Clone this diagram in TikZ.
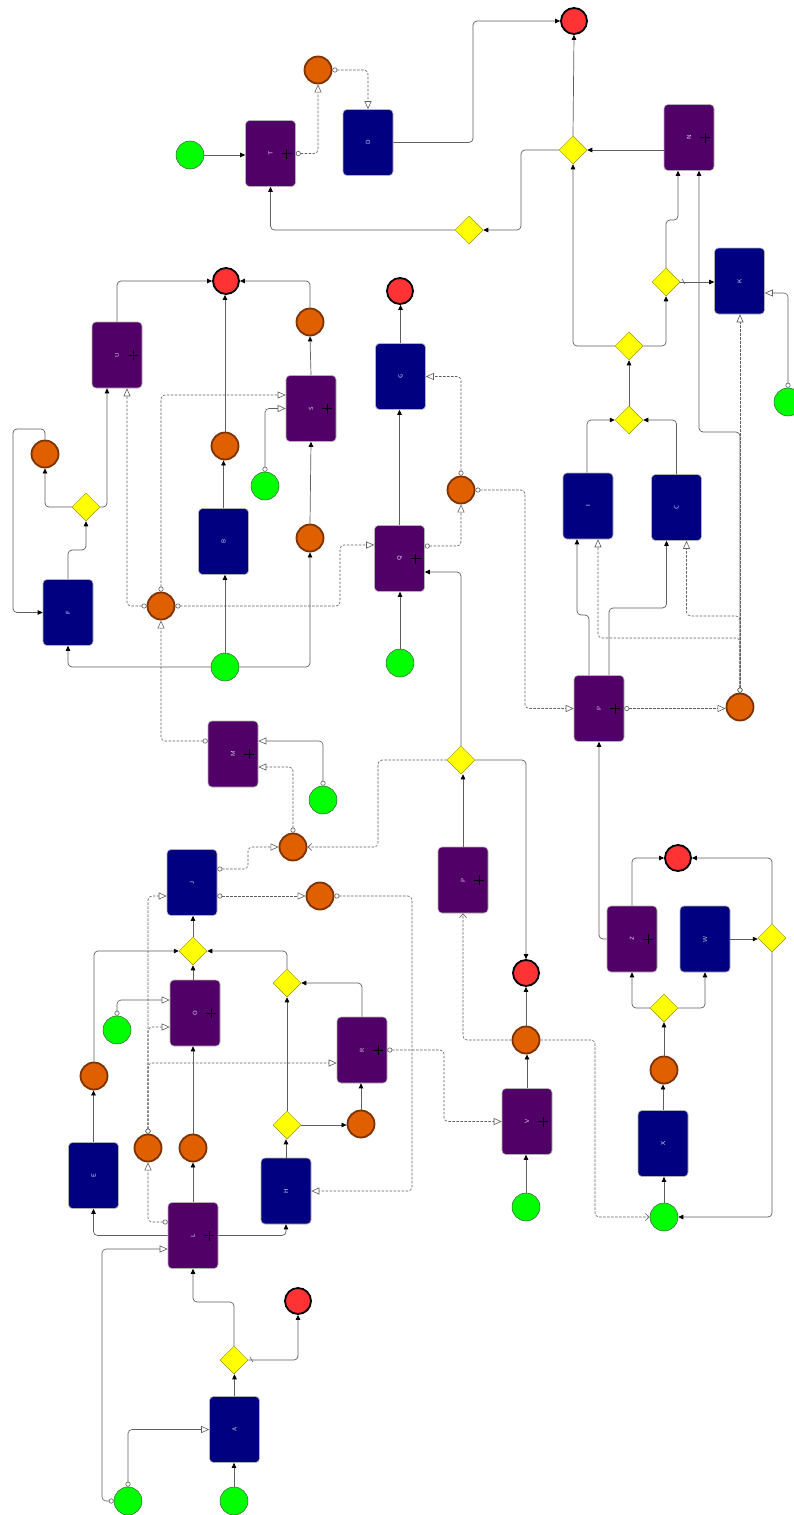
\documentclass[tikz,border=0pt]{standalone}
\usetikzlibrary{shapes.geometric,arrows.meta}
\definecolor{purp}{RGB}{80,0,102}
\definecolor{navyc}{RGB}{0,0,128}
\definecolor{orf}{RGB}{224,96,0}
\definecolor{orb}{RGB}{125,50,0}
\definecolor{redf}{RGB}{255,51,51}
\definecolor{grf}{RGB}{0,255,0}
\definecolor{yelf}{RGB}{255,255,0}
\definecolor{yelb}{RGB}{150,150,0}
\definecolor{lc}{RGB}{95,95,95}
\definecolor{labc}{RGB}{225,210,245}
\begin{document}
\begin{tikzpicture}[x=1pt,y=-1pt,
  task/.style={rectangle,rounded corners=4pt,minimum width=50pt,minimum height=66pt,inner sep=0pt,draw=gray!60,line width=0.6pt,text=labc,font=\sffamily\fontsize{6}{6}\selectfont},
  ptask/.style={task,fill=purp,path picture={\draw[black,line width=0.9pt] ([xshift=16pt]path picture bounding box.center) +(-5pt,0) -- +(5pt,0) +(0,-5pt) -- +(0,5pt);}},
  ntask/.style={task,fill=navyc},
  startev/.style={circle,minimum size=28pt,inner sep=0pt,fill=grf,draw=gray!80!green!60!black,line width=0.5pt},
  interev/.style={circle,minimum size=27pt,inner sep=0pt,fill=orf,draw=orb,line width=1.8pt},
  endev/.style={circle,minimum size=26pt,inner sep=0pt,fill=redf,draw=black,line width=1.8pt},
  gw/.style={diamond,minimum width=28pt,minimum height=28pt,inner sep=0pt,fill=yelf,draw=yelb,line width=0.5pt},
  seq/.style={draw=lc,line width=0.7pt,rounded corners=4pt,-{Triangle[length=5pt,width=4.5pt,color=black]}},
  msgs/.style={draw=lc,line width=0.6pt,rounded corners=4pt,{Circle[open,length=5pt,width=5pt,fill=white]}-{Triangle[open,length=8pt,width=7pt,fill=white]}},
  msg/.style={msgs,dash pattern=on 2.5pt off 1.5pt},
  asc/.style={draw=lc,line width=0.6pt,rounded corners=4pt,dash pattern=on 2.5pt off 1.5pt,-{Straight Barb[length=4pt,width=7pt]}},
  dflt/.style={draw=lc,line width=0.6pt}
]
\useasboundingbox[fill=white] (0,0) rectangle (793,1515);
% tasks
\node[ptask] (T) at (270.5,153.5) {\rotatebox{90}{T}};
\node[ntask] (D) at (368,142.5) {\rotatebox{90}{D}};
\node[ptask] (N) at (689,137.5) {\rotatebox{90}{N}};
\node[ntask] (K) at (739.5,281) {\rotatebox{90}{K}};
\node[ntask] (G) at (400.5,376.5) {\rotatebox{90}{G}};
\node[ptask] (U) at (117,355) {\rotatebox{90}{U}};
\node[ptask] (S) at (311,408.5) {\rotatebox{90}{S}};
\node[ntask] (I) at (588,506) {\rotatebox{90}{I}};
\node[ntask] (C) at (676.5,507.5) {\rotatebox{90}{C}};
\node[ntask] (B) at (223.5,541.5) {\rotatebox{90}{B}};
\node[ptask] (Q) at (399.5,558.5) {\rotatebox{90}{Q}};
\node[ntask] (F) at (68,612.5) {\rotatebox{90}{F}};
\node[ptask] (P1) at (599,708.5) {\rotatebox{90}{P}};
\node[ptask] (M) at (233,754) {\rotatebox{90}{M}};
\node[ntask] (J) at (192,882.5) {\rotatebox{90}{J}};
\node[ptask] (P2) at (463,880) {\rotatebox{90}{P}};
\node[ptask] (Z) at (632,939) {\rotatebox{90}{Z}};
\node[ntask] (W) at (705,939) {\rotatebox{90}{W}};
\node[ptask] (O) at (195,1013) {\rotatebox{90}{O}};
\node[ptask] (R) at (362,1050) {\rotatebox{90}{R}};
\node[ntask] (X) at (663,1143.5) {\rotatebox{90}{X}};
\node[ptask] (V) at (527,1121.5) {\rotatebox{90}{V}};
\node[ntask] (E) at (93.5,1175.5) {\rotatebox{90}{E}};
\node[ntask] (H) at (286,1191) {\rotatebox{90}{H}};
\node[ptask] (L) at (193,1235.5) {\rotatebox{90}{L}};
\node[ntask] (A) at (234.5,1429.5) {\rotatebox{90}{A}};
% start events
\node[startev] (s1) at (190,155) {};
\node[startev] (s2) at (788,402) {};
\node[startev] (s3) at (265,486) {};
\node[startev] (s4) at (225,667) {};
\node[startev] (s5) at (400,663) {};
\node[startev] (s6) at (323,800) {};
\node[startev] (s7) at (117,1030) {};
\node[startev] (s8) at (526,1207) {};
\node[startev] (s9) at (664,1217) {};
\node[startev] (s10) at (128,1501) {};
\node[startev] (s11) at (234,1501) {};
% intermediate events
\node[interev] (i1) at (318,70) {};
\node[interev] (i2) at (310,322) {};
\node[interev] (i3) at (225,446) {};
\node[interev] (i4) at (45,454) {};
\node[interev] (i5) at (461,490) {};
\node[interev] (i6) at (310,538) {};
\node[interev] (i7) at (161,606) {};
\node[interev] (i8) at (740,707) {};
\node[interev] (i9) at (293,847) {};
\node[interev] (i10) at (320,896) {};
\node[interev] (i11) at (526,1040) {};
\node[interev] (i12) at (664,1070) {};
\node[interev] (i13) at (94,1076) {};
\node[interev] (i14) at (361,1124) {};
\node[interev] (i15) at (148,1148) {};
\node[interev] (i16) at (193,1148) {};
% end events
\node[endev] (e1) at (574,21) {};
\node[endev] (e2) at (226,281) {};
\node[endev] (e3) at (400,291) {};
\node[endev] (e4) at (678,858) {};
\node[endev] (e5) at (526,973) {};
\node[endev] (e6) at (298,1301) {};
% gateways
\node[gw] (g1) at (573,150) {};
\node[gw] (g2) at (469,230) {};
\node[gw] (g3) at (666,282) {};
\node[gw] (g4) at (629,346) {};
\node[gw] (g5) at (629,420) {};
\node[gw] (g6) at (461,760) {};
\node[gw] (g7) at (772,938) {};
\node[gw] (g8) at (664,1008) {};
\node[gw] (g9) at (193,951) {};
\node[gw] (g10) at (287,1125) {};
\node[gw] (g11) at (287,983) {};
\node[gw] (g12) at (86,507) {};
\node[gw] (g13) at (234,1360) {};
% sequence flows
\draw[seq] (s1.east) -- (s1.east -| T.west);
\draw[seq] (D.east) -- (473,142.5) |- (e1.west);
\draw[seq] (g1.north) -- (e1.south);
\draw[seq] (g1.east -| N.west) -- (g1.east);
\draw[seq] (g1.west) -- (521,150) |- (g2.east);
\draw[seq] (g2.west) -| (T.south);
\draw[seq] (g3.north) -- (666,220) -| ([xshift=-11pt]N.south);
\draw[seq] (i8.north) -- (740,432) -| ([xshift=10pt]N.south);
\draw[seq] (g3.east) -- (g3.east -| K.west);
\draw[dflt] (682,279) -- (685,284);
\draw[seq] (g4.east) -| (g3.south);
\draw[seq] (g4.west) -| (g1.south);
\draw[seq] (g5.north) -- (g4.south);
\draw[seq] ([xshift=-1pt]I.north) |- (g5.west);
\draw[seq] (C.north) |- (g5.east);
\draw[seq] ([xshift=-10pt]P1.north) -- (589,615) -| ([xshift=-11pt]I.south);
\draw[seq] ([xshift=10pt]P1.north) -- (609,608) -| ([xshift=-10pt]C.south);
\draw[seq] (Z.west) -| (P1.south);
\draw[seq] (Z.north) |- (e4.west);
\draw[seq] (W.east) -- (W.east -| g7.west);
\draw[seq] (g7.north) |- (e4.east);
\draw[seq] (g7.south) |- (s9.east);
\draw[seq] (g8.west) -| (Z.south);
\draw[seq] (g8.east) -| (W.south);
\draw[seq] (i12.north) -- (g8.south);
\draw[seq] (X.north) -- (X.north |- i12.south);
\draw[seq] (s9.north) -- (s9.north |- X.south);
\draw[seq] (i11.north) -- (e5.south);
\draw[seq] (V.north) -- (V.north |- i11.south);
\draw[seq] (s8.north) -- (s8.north |- V.south);
\draw[seq] (g6.east) -| (e5.north);
\draw[seq] (P2.north) -- (P2.north |- g6.south);
\draw[seq] (g6.north) |- ([yshift=-13.5pt]Q.east);
\draw[seq] (s5.north) -- (s5.north |- Q.south);
\draw[seq] (Q.north) -- (Q.north |- G.south);
\draw[seq] (G.north) -- (G.north |- e3.south);
\draw[seq] (s4.west) -| (F.south);
\draw[seq] (s4.east) -| (i6.south);
\draw[seq] (s4.north) -- (s4.north |- B.south);
\draw[seq] (B.north) -- (B.north |- i3.south);
\draw[seq] (i3.north) -- (i3.north |- e2.south);
\draw[seq] (i6.north) -- (S.south);
\draw[seq] (S.north) -- (i2.south);
\draw[seq] (i2.north) |- (e2.east);
\draw[seq] (U.north) |- (e2.west);
\draw[seq] (F.north) -- (68,550) -| (g12.south);
\draw[seq] (g12.west) -| (i4.south);
\draw[seq] (g12.east) -| ([xshift=-10pt]U.south);
\draw[seq] (i4.north) -- (45,429) -- (13,429) |- (F.west);
\draw[seq] (g9.south |- O.north) -- (g9.south);
\draw[seq] (g9.north) -- (g9.north |- J.south);
\draw[seq] (i13.north) |- (g9.west);
\draw[seq] (E.north) -- (E.north |- i13.south);
\draw[seq] (L.west) -| (E.south);
\draw[seq] (L.east) -| (H.south);
\draw[seq] (L.north) -- (i16.south);
\draw[seq] (i16.north) -- (i16.north |- O.south);
\draw[seq] (H.north) -- (H.north |- g10.south);
\draw[seq] (g10.north) -- (g11.south);
\draw[seq] (g10.east) -- (g10.east -| i14.west);
\draw[seq] (i14.north) -- (i14.north |- R.south);
\draw[seq] (R.north) |- (g11.east);
\draw[seq] (g11.north) |- (g9.east);
\draw[seq] (A.north) -- (A.north |- g13.south);
\draw[seq] (s11.north) -- (s11.north |- A.south);
\draw[seq] (g13.north) -- (234,1302) -| (L.south);
\draw[seq] (g13.east) -| (e6.south);
\draw[dflt] (250,1357) -- (253,1362);
% message flows
\draw[msg] (T.east) -| (i1.south);
\draw[msg] (i1.east) -| (D.north);
\draw[msgs] (s2.north) |- ([yshift=-12pt]K.east);
\draw[msg] (i8.north) -- (i8.north |- K.south);
\draw[msg] (i8.north) -- (740,638) -| ([xshift=10pt]I.south);
\draw[msg] (i8.north) -- (740,616) -| ([xshift=10pt]C.south);
\draw[msg] (P1.east) -- (P1.east -| i8.west);
\draw[msg] (i5.east) -- (525,490) |- (P1.west);
\draw[msg] (i5.north) |- (G.east);
\draw[msg] ([yshift=12.5pt]Q.east) -| (i5.south);
\draw[msg] (i7.west) -| ([xshift=10pt]U.south);
\draw[msg] (i7.north) |- ([yshift=13.5pt]S.west);
\draw[msg] (i7.east) -- (340,606) |- ([yshift=13.5pt]Q.west);
\draw[msgs] (s3.north) |- (S.west);
\draw[msg] ([yshift=13pt]M.west) -| (i7.south);
\draw[msgs] (s6.north) |- ([yshift=13pt]M.east);
\draw[msg] (i9.north) |- ([yshift=-13pt]M.east);
\draw[msg] ([yshift=13.5pt]J.east) -- (248,869) |- (i9.west);
\draw[msg] ([yshift=-13.5pt]J.east) -- ([yshift=-13.5pt]J.east -| i10.west);
\draw[msg] (i10.east) -- (412,896) |- (H.east);
\draw[asc] (g6.west) -- (378,760) |- (i9.east);
\draw[asc] (i11.west) -| (P2.south);
\draw[asc] (i11.east) -- (595,1040) |- (s9.west);
\draw[msg] (R.east) -- (444,1050) |- (V.west);
\draw[msgs] (s7.north) |- ([yshift=13pt]O.west);
\draw[msg] (i15.north) |- ([yshift=-14pt]O.west);
\draw[msg] (i15.north) |- ([yshift=-13pt]R.west);
\draw[msg] (i15.north) |- ([yshift=-13.5pt]J.west);
\draw[msg] ([yshift=13.5pt]L.west) -| (i15.south);
\draw[msgs] (s10.west) -- (102,1501) |- ([yshift=-13.5pt]L.west);
\draw[msgs] (s10.north) |- (A.west);
\end{tikzpicture}
\end{document}
